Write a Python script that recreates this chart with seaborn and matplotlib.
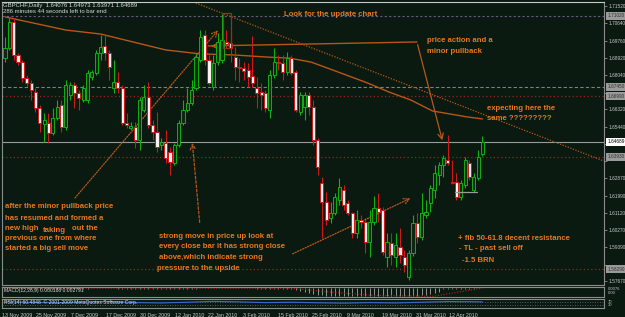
import numpy as np
import pandas as pd
import matplotlib
matplotlib.use("Agg")
import matplotlib.pyplot as plt
import seaborn as sns

# ---------------- data ----------------
opens = [1.6890, 1.6941, 1.7071, 1.6906, 1.6870, 1.6790, 1.6765, 1.6719, 1.6639, 1.6559,
         1.6564, 1.6513, 1.6589, 1.6654, 1.6543, 1.6704, 1.6755, 1.6714, 1.6679, 1.6679,
         1.6795, 1.6815, 1.6916, 1.6951, 1.6916, 1.6740, 1.6770, 1.6740, 1.6564, 1.6538,
         1.6543, 1.6478, 1.6629, 1.6694, 1.6553, 1.6518, 1.6453, 1.6463, 1.6418, 1.6362,
         1.6453, 1.6564, 1.6629, 1.6664, 1.6740, 1.6880, 1.7006, 1.6880, 1.6745, 1.6870,
         1.6880, 1.6971, 1.6966, 1.6895, 1.6845, 1.6840, 1.6830, 1.6800, 1.6740, 1.6719,
         1.6714, 1.6629, 1.6805, 1.6870, 1.6865, 1.6820, 1.6890, 1.6820, 1.6619, 1.6644,
         1.6704, 1.6644, 1.6478, 1.6262, 1.6166, 1.6086, 1.6111, 1.6176, 1.6226, 1.6161,
         1.6111, 1.6010, 1.6076, 1.6066, 1.5965, 1.6066, 1.6136, 1.6126, 1.5890, 1.5960,
         1.5890, 1.5940, 1.5890, 1.5789, 1.5910, 1.6060, 1.5990, 1.6101, 1.6161, 1.6226,
         1.6302, 1.6352, 1.6377, 1.6267, 1.6267, 1.6191, 1.6252, 1.6362, 1.6226, 1.6287,
         1.6408]
highs = [1.6996, 1.7092, 1.7092, 1.6916, 1.6880, 1.6805, 1.6780, 1.6740, 1.6654, 1.6614,
         1.6614, 1.6639, 1.6679, 1.6679, 1.6780, 1.6770, 1.6770, 1.6730, 1.6755, 1.6830,
         1.6830, 1.6931, 1.7006, 1.7006, 1.6931, 1.6880, 1.6820, 1.6755, 1.6614, 1.6569,
         1.6569, 1.6694, 1.6755, 1.6770, 1.6579, 1.6619, 1.6488, 1.6528, 1.6443, 1.6463,
         1.6579, 1.6679, 1.6740, 1.6780, 1.6916, 1.7031, 1.7031, 1.6906, 1.6906, 1.7016,
         1.7112, 1.7031, 1.7021, 1.6946, 1.6890, 1.6870, 1.6865, 1.7001, 1.6795, 1.6765,
         1.6730, 1.6830, 1.6941, 1.6906, 1.6906, 1.6921, 1.6906, 1.6830, 1.6719, 1.6719,
         1.6719, 1.6679, 1.6488, 1.6292, 1.6216, 1.6166, 1.6211, 1.6287, 1.6252, 1.6176,
         1.6116, 1.6126, 1.6101, 1.6086, 1.6126, 1.6196, 1.6211, 1.6141, 1.6010, 1.6010,
         1.6010, 1.6035, 1.5925, 1.5925, 1.6101, 1.6111, 1.6211, 1.6176, 1.6252, 1.6352,
         1.6367, 1.6403, 1.6503, 1.6377, 1.6312, 1.6277, 1.6393, 1.6377, 1.6312, 1.6428,
         1.6497]
lows = [1.6870, 1.6931, 1.6880, 1.6855, 1.6770, 1.6750, 1.6679, 1.6619, 1.6518, 1.6468,
        1.6463, 1.6503, 1.6579, 1.6518, 1.6528, 1.6679, 1.6639, 1.6629, 1.6669, 1.6664,
        1.6780, 1.6805, 1.6880, 1.6880, 1.6780, 1.6714, 1.6714, 1.6553, 1.6538, 1.6528,
        1.6438, 1.6428, 1.6619, 1.6538, 1.6478, 1.6418, 1.6428, 1.6362, 1.6302, 1.6352,
        1.6443, 1.6553, 1.6619, 1.6654, 1.6730, 1.6870, 1.6855, 1.6755, 1.6730, 1.6855,
        1.6865, 1.6941, 1.6870, 1.6780, 1.6770, 1.6780, 1.6745, 1.6745, 1.6639, 1.6629,
        1.6619, 1.6589, 1.6790, 1.6830, 1.6780, 1.6805, 1.6805, 1.6619, 1.6604, 1.6579,
        1.6604, 1.6453, 1.6302, 1.5985, 1.6050, 1.6060, 1.6101, 1.6151, 1.6126, 1.6101,
        1.5985, 1.5985, 1.6035, 1.5910, 1.5890, 1.6050, 1.6066, 1.5900, 1.5839, 1.5849,
        1.5839, 1.5859, 1.5814, 1.5774, 1.5895, 1.5960, 1.5975, 1.6086, 1.6116, 1.6186,
        1.6252, 1.6292, 1.6352, 1.6257, 1.6176, 1.6176, 1.6237, 1.6277, 1.6216, 1.6277,
        1.6397]
closes = [1.6941, 1.7071, 1.6906, 1.6870, 1.6790, 1.6765, 1.6730, 1.6639, 1.6564, 1.6579,
          1.6513, 1.6589, 1.6644, 1.6543, 1.6755, 1.6755, 1.6714, 1.6689, 1.6740, 1.6815,
          1.6820, 1.6916, 1.6946, 1.6916, 1.6845, 1.6770, 1.6740, 1.6564, 1.6553, 1.6548,
          1.6478, 1.6679, 1.6694, 1.6553, 1.6518, 1.6443, 1.6468, 1.6388, 1.6367, 1.6453,
          1.6564, 1.6629, 1.6664, 1.6730, 1.6895, 1.6996, 1.6880, 1.6765, 1.6865, 1.6971,
          1.6981, 1.6961, 1.6941, 1.6845, 1.6840, 1.6825, 1.6795, 1.6765, 1.6714, 1.6704,
          1.6639, 1.6805, 1.6870, 1.6865, 1.6820, 1.6890, 1.6815, 1.6629, 1.6704, 1.6704,
          1.6644, 1.6478, 1.6342, 1.6166, 1.6076, 1.6111, 1.6191, 1.6242, 1.6151, 1.6111,
          1.6010, 1.6076, 1.6066, 1.5965, 1.6066, 1.6136, 1.6116, 1.5915, 1.5965, 1.5900,
          1.5950, 1.5900, 1.5849, 1.5910, 1.6060, 1.5990, 1.6111, 1.6116, 1.6237, 1.6312,
          1.6352, 1.6388, 1.6362, 1.6262, 1.6191, 1.6262, 1.6377, 1.6292, 1.6292, 1.6393,
          1.6469]

# moving average read at sample bars
ma_bar = [0, 14, 22, 29.5, 37, 45, 52.5, 60.5, 65.5, 70.5, 75.5, 83.5, 88.5, 93.5, 98.5, 106.5, 110]
ma_val = [1.7097, 1.7031, 1.7011, 1.6971, 1.6931, 1.6911, 1.6906, 1.6895, 1.6890, 1.6870,
          1.6830, 1.6765, 1.6719, 1.6679, 1.6624, 1.6594, 1.6584]

# right price scale labels
price_ticks = [1.71520, 1.70640, 1.69760, 1.68920, 1.68040, 1.67150, 1.66320, 1.65440,
               1.64560, 1.63720, 1.62870, 1.61990, 1.61120, 1.60270, 1.59390, 1.58510, 1.57670]

# horizontal levels: (price, kind)
level_prices = [1.7102, 1.6745, 1.6699, 1.64689, 1.6393, 1.5829]
level_kinds = ["purple", "gray", "red", "current", "red", "red"]

date_ticks = [-0.6, 7.2, 15.2, 23.2, 31.2, 39.2, 46.8, 54.8, 62.8, 70.8, 78.8, 86.8, 94.8, 102.4]
date_labels = ["13 Nov 2009", "25 Nov 2009", "7 Dec 2009", "17 Dec 2009", "30 Dec 2009",
               "12 Jan 2010", "22 Jan 2010", "3 Feb 2010", "15 Feb 2010", "25 Feb 2010",
               "9 Mar 2010", "19 Mar 2010", "31 Mar 2010", "12 Apr 2010"]

# MACD main (gray histogram) and signal (red dotted)
macd_hist = [0.02, 0.03, 0.02, 0.0, -0.02, -0.03, -0.04, -0.05, -0.06, -0.06,
             -0.07, -0.06, -0.05, -0.05, -0.04, -0.03, -0.03, -0.03, -0.02, -0.01,
             0.0, 0.01, 0.02, 0.02, 0.01, 0.0, -0.01, -0.03, -0.04, -0.05,
             -0.06, -0.05, -0.05, -0.06, -0.07, -0.08, -0.08, -0.09, -0.1, -0.09,
             -0.08, -0.06, -0.05, -0.03, -0.01, 0.01, 0.02, 0.02, 0.02, 0.03,
             0.04, 0.04, 0.04, 0.03, 0.03, 0.02, 0.01, 0.0, -0.01, -0.02,
             -0.03, -0.03, -0.02, -0.02, -0.02, -0.02, -0.03, -0.2, -0.35, -0.45,
             -0.55, -0.65, -0.75, -0.85, -0.9, -0.92, -0.9, -0.88, -0.88, -0.9,
             -0.92, -0.95, -0.95, -0.95, -0.97, -0.95, -0.93, -0.95, -0.97, -0.97,
             -0.97, -0.97, -0.97, -0.98, -0.95, -0.9, -0.85, -0.8, -0.7, -0.55,
             -0.4, -0.05, -0.04, -0.03, -0.03, -0.02, -0.02, -0.01, -0.01, 0.0, 0.0]
macd_sig_bar = [0, 66, 75, 85, 98.6, 110]
macd_sig_val = [0.05, 0.03, -0.45, -0.85, -0.97, 0.05]

rsi_bar = [0, 6, 12, 18, 24, 30, 36, 42, 48, 54, 60, 66, 72, 78, 84, 90, 96, 102, 110]
rsi_val = [70, 62, 58, 66, 72, 60, 56, 64, 74, 68, 60, 64, 58, 54, 60, 56, 64, 72, 68]

# ---------------- style ----------------
BG = "#0a1a10"
ORANGE = "#e8761e"
BROWN = "#b85618"
GRID_GRAY = "#8c8c8c"
TXT = "#d8d8d8"

sns.set_style("dark", {"axes.facecolor": BG, "figure.facecolor": BG})
plt.rcParams["font.family"] = ["Liberation Sans", "DejaVu Sans"]

W, H = 625, 317
fig = plt.figure(figsize=(W / 100, H / 100), dpi=100, facecolor=BG)


def rect(x0, y0, x1, y1):
    return [x0 / W, 1 - y1 / H, (x1 - x0) / W, (y1 - y0) / H]


ax = fig.add_axes(rect(2, 2, 604, 285))
axm = fig.add_axes(rect(2, 287, 604, 297), sharex=ax)
axr = fig.add_axes(rect(2, 299, 604, 308), sharex=ax)

for a in (ax, axm, axr):
    a.set_facecolor(BG)
    a.grid(False)
    for s in a.spines.values():
        s.set_color(GRID_GRAY)
        s.set_linewidth(0.8)
ax.spines["top"].set_color("#c8c8c8")

XMIN, XMAX = -0.7, 138.0
ax.set_xlim(XMIN, XMAX)
ax.set_ylim(1.5749, 1.7172)

df = pd.DataFrame({"o": opens, "h": highs, "l": lows, "c": closes})
df["i"] = np.arange(len(df))
up = df["c"] >= df["o"]
dn = ~up

GREEN = "#12b012"
RED = "#d01818"
ax.vlines(df["i"][up], df["l"][up], df["h"][up], color=GREEN, lw=0.8, zorder=3)
ax.vlines(df["i"][dn], df["l"][dn], df["h"][dn], color=RED, lw=0.8, zorder=3)
ax.bar(df["i"][up], (df["c"] - df["o"])[up].clip(lower=0.00025), bottom=df["o"][up],
       width=0.72, color="#0a2a10", edgecolor=GREEN, lw=0.7, zorder=4)
ax.bar(df["i"][dn], (df["o"] - df["c"])[dn].clip(lower=0.00025), bottom=df["c"][dn],
       width=0.72, color="#fff0f0", edgecolor=RED, lw=0.7, zorder=4)

# moving average
sns.lineplot(x=ma_bar, y=ma_val, ax=ax, color=BROWN, lw=1.0, zorder=2)

# horizontal levels
level_style = {
    "purple": dict(color="#6a5a80", ls=(0, (2, 2)), lw=0.8),
    "gray": dict(color="#808080", ls=(0, (3, 2)), lw=0.8),
    "red": dict(color="#a02020", ls=(0, (1, 2)), lw=0.9),
    "current": dict(color="#9a9a9a", ls="-", lw=0.8),
}
for p, k in zip(level_prices, level_kinds):
    ax.axhline(p, zorder=1, **level_style[k])

# user drawn objects
ax.plot([42.2, 138.0], [1.7182, 1.6372], color=BROWN, ls=(0, (1, 1.2)), lw=0.9, zorder=2)
ax.plot([46.8, 94.9], [1.6951, 1.6971], color=BROWN, lw=1.0, zorder=2)
ax.annotate("", xy=(46.8, 1.6951), xytext=(50.0, 1.6951),
            arrowprops=dict(arrowstyle="->", color=BROWN, lw=0.8))
ax.annotate("", xy=(100.9, 1.6463), xytext=(94.9, 1.6971),
            arrowprops=dict(arrowstyle="->", color=BROWN, lw=0.9))
ax.annotate("", xy=(49.5, 1.7041), xytext=(15.7, 1.6176),
            arrowprops=dict(arrowstyle="->", color=BROWN, lw=0.9, ls=(0, (1, 1.2))))
ax.annotate("", xy=(94.0, 1.6191), xytext=(65.7, 1.5900),
            arrowprops=dict(arrowstyle="->", color=BROWN, lw=0.9, ls=(0, (1, 1.2))))
ax.annotate("", xy=(43.1, 1.6478), xytext=(44.9, 1.6050),
            arrowprops=dict(arrowstyle="->", color=BROWN, lw=0.9, ls=(0, (2, 1.5))))
ax.add_patch(plt.Rectangle((50.2, 1.6941), 1.8, 0.0176, fill=False, ec="#8a3418", lw=0.9, zorder=5))
ax.plot([103.7, 108.8], [1.6216, 1.6216], color="#9a9a9a", lw=0.9, zorder=5)

# right price axis (labels hidden where a level box covers them)
ax.yaxis.tick_right()
ax.set_yticks(price_ticks)
shown = []
for v in price_ticks:
    covered = any(abs(v - p) < 0.0024 for p in level_prices)
    shown.append("" if covered else f"{v:.5f}")
ax.set_yticklabels(shown)
ax.tick_params(axis="y", colors=GRID_GRAY, labelsize=3.4, length=2, width=0.6, pad=1.5,
               labelcolor="#c8c8c8")
ax.tick_params(axis="x", bottom=False, labelbottom=False)
ax.set_xlabel("")
ax.set_ylabel("")

# level boxes on the price scale
box_fmt = {"purple": ("#9a9a9a", "#303030"), "gray": ("#9a9a9a", "#303030"),
           "red": ("#9a9a9a", "#303030"), "current": ("#ffffff", "#000000")}
for p, k in zip(level_prices, level_kinds):
    fc, tc = box_fmt[k]
    ax.text(1.006, p, f"{p:.5f}", transform=ax.get_yaxis_transform(), fontsize=3.4,
            color=tc, va="center", ha="left", clip_on=False, zorder=10,
            bbox=dict(boxstyle="square,pad=0.25", fc=fc, ec="none"))

# MACD panel
axm.set_ylim(-1.05, 0.18)
axm.vlines(np.arange(len(macd_hist)), 0, macd_hist, color="#a8a8a8", lw=0.6)
sns.lineplot(x=macd_sig_bar, y=macd_sig_val, ax=axm, color="#c02020", lw=0.8, ls=(0, (1, 1.5)))
axm.set_yticks([])
axm.tick_params(axis="x", bottom=False, labelbottom=False)
axm.set_xlabel("")
axm.set_ylabel("")
axm.text(0.004, 0.62, "MACD(12,26,9) 0.000188 0.002791", transform=axm.transAxes,
         fontsize=3.6, color=TXT, va="center", ha="left")
axm.text(1.006, 0.82, "0.0076", transform=axm.transAxes, fontsize=3.0, color="#c8c8c8",
         va="center", ha="left", clip_on=False)
axm.text(1.006, 0.35, "0.00", transform=axm.transAxes, fontsize=3.0, color="#c8c8c8",
         va="center", ha="left", clip_on=False)

# RSI panel
axr.set_ylim(0, 100)
for lv in (70, 30):
    axr.axhline(lv, color="#707088", ls=(0, (1, 2)), lw=0.6)
sns.lineplot(x=rsi_bar, y=rsi_val, ax=axr, color="#3a6ad0", lw=0.8)
axr.set_yticks([])
axr.set_xlabel("")
axr.set_ylabel("")
axr.text(0.004, 0.6, "RSI(14) 60.4848  \u00a9 2001-2009 MetaQuotes Software Corp.",
         transform=axr.transAxes, fontsize=3.6, color=TXT, va="center", ha="left")
axr.text(1.006, 0.72, "70", transform=axr.transAxes, fontsize=3.0, color="#c8c8c8",
         va="center", ha="left", clip_on=False)
axr.text(1.006, 0.3, "30", transform=axr.transAxes, fontsize=3.0, color="#c8c8c8",
         va="center", ha="left", clip_on=False)
axr.set_xticks(date_ticks)
axr.set_xticklabels(date_labels)
axr.tick_params(axis="x", colors=GRID_GRAY, labelsize=3.8, length=2.5, width=0.6, pad=0.8,
                labelcolor="#c8c8c8")
for lbl in axr.get_xticklabels():
    lbl.set_horizontalalignment("left")

# header text
fig.text(3 / W, 1 - 5 / H, "GBPCHF,Daily  1.64076 1.64973 1.63971 1.64689", fontsize=4.3,
         color=TXT, va="center", ha="left")
fig.text(3 / W, 1 - 11.5 / H, "286 minutes 44 seconds left to bar end", fontsize=4.3,
         color=TXT, va="center", ha="left")


# annotation texts
def note(x, y, s):
    fig.text(x / W, 1 - y / H, s, fontsize=5.6, color=ORANGE, fontweight="bold",
             family=["Liberation Sans", "DejaVu Sans"], va="center", ha="left")


note(284, 15, "Look for the update chart")
note(427, 41, "price action and a")
note(427, 51.5, "minor pullback")
note(487, 108, "expecting here the")
note(487, 118.5, "same ?????????")
note(5, 207, "after the minor pullback price")
note(5, 218, "has resumed and formed a")
note(5, 228, "new high")
note(43, 230, "taking")
note(72, 228, "out the")
note(5, 239, "previous one from where")
note(5, 249, "started a big sell move")
note(159, 236, "strong move in price up look at")
note(159, 247, "every close bar it has strong close")
note(159, 257.5, "above,which indicate strong")
note(157, 268, "pressure to the upside")
note(458, 238, "+ fib 50-61.8 decent resistance")
note(459, 249, "- TL - past sell off")
note(462, 261, "-1.5 BRN")

fig.savefig("out.png", dpi=100, facecolor=BG)
